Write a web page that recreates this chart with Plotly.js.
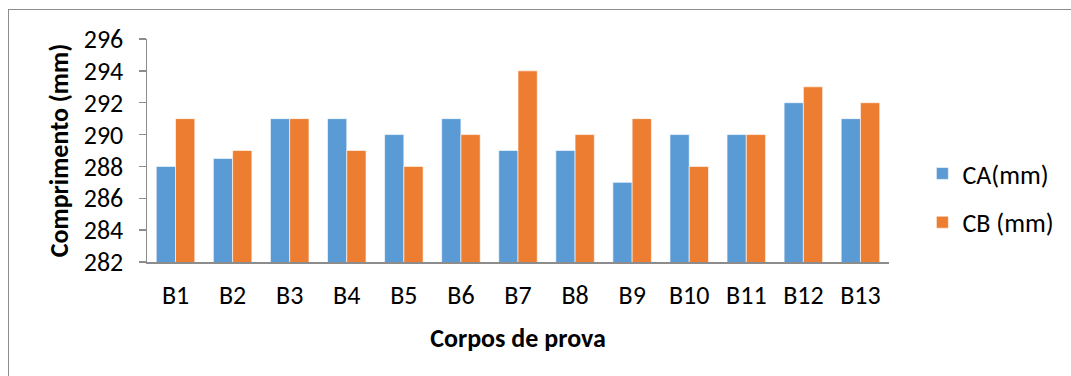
<!DOCTYPE html>
<html>
<head>
<meta charset="utf-8">
<script src="https://cdn.plot.ly/plotly-3.0.1.min.js"></script>
<style>
  html, body { margin: 0; padding: 0; background: #fff; }
  #wrap { position: relative; width: 1071px; height: 376px; overflow: hidden; }
  #chart { position: absolute; left: 0; top: 0; width: 1071px; height: 376px; }
  #frame { position: absolute; left: 8px; top: 9px; width: 1080px; height: 400px;
           border: 1px solid #8c8c8c; box-sizing: border-box; pointer-events: none; }
</style>
</head>
<body>
<div id="wrap">
  <div id="chart"></div>
  <div id="frame"></div>
</div>
<script>
// Specimen labels and measured lengths (mm)
const categories = ['B1','B2','B3','B4','B5','B6','B7','B8','B9','B10','B11','B12','B13'];
const caValues = [288, 288.5, 291, 291, 290, 291, 289, 289, 287, 290, 290, 292, 291];
const cbValues = [291, 289, 291, 289, 288, 290, 294, 290, 291, 288, 290, 293, 292];
const seriesNames = ['CA(mm)', 'CB (mm)'];
const yTicks = [282, 284, 286, 288, 290, 292, 294, 296];

const font = 'Carlito, Calibri, "Open Sans", "Liberation Sans", sans-serif';
const fs = 26;

const traces = [
  { type: 'bar', name: seriesNames[0], legendgroup: 'ca', x: categories, y: caValues,
    marker: { color: '#5B9BD5', line: { color: 'rgba(255,255,255,0.6)', width: 1 } } },
  { type: 'bar', name: seriesNames[1], legendgroup: 'cb', x: categories, y: cbValues,
    marker: { color: '#ED7D31', line: { color: 'rgba(255,255,255,0.6)', width: 1 } } }
];

const layout = {
  width: 1071, height: 376,
  margin: { l: 147, r: 174, t: 39, b: 114 },
  paper_bgcolor: '#fff', plot_bgcolor: '#fff',
  barmode: 'group', bargap: 0.325, bargroupgap: 0,
  font: { family: font, size: fs, color: '#000' },
  showlegend: true,
  legend: { x: 1.045, y: 0.287, yanchor: 'middle', xanchor: 'left',
            font: { family: font, size: fs, color: '#000' },
            tracegroupgap: 12, itemwidth: 30, traceorder: 'grouped' },
  xaxis: {
    type: 'category', showgrid: false, zeroline: false,
    showline: true, linecolor: '#8c8c8c', linewidth: 1.5,
    ticks: '', tickfont: { family: font, size: fs }, ticklabelstandoff: 9,
    title: { text: '<b>Corpos de prova</b>', font: { family: font, size: fs }, standoff: 19 }
  },
  yaxis: {
    range: [282, 296], tickvals: yTicks, ticktext: yTicks.map(String),
    showgrid: false, zeroline: false,
    showline: true, linecolor: '#8c8c8c', linewidth: 1.5,
    ticks: 'outside', ticklen: 7, tickcolor: '#8c8c8c', tickwidth: 1.5,
    tickfont: { family: font, size: fs }, ticklabelstandoff: 10,
    title: { text: '<b>Comprimento (mm)</b>', font: { family: font, size: fs }, standoff: 7 }
  }
};

Plotly.newPlot('chart', traces, layout, { displayModeBar: false, staticPlot: true });
</script>
</body>
</html>
